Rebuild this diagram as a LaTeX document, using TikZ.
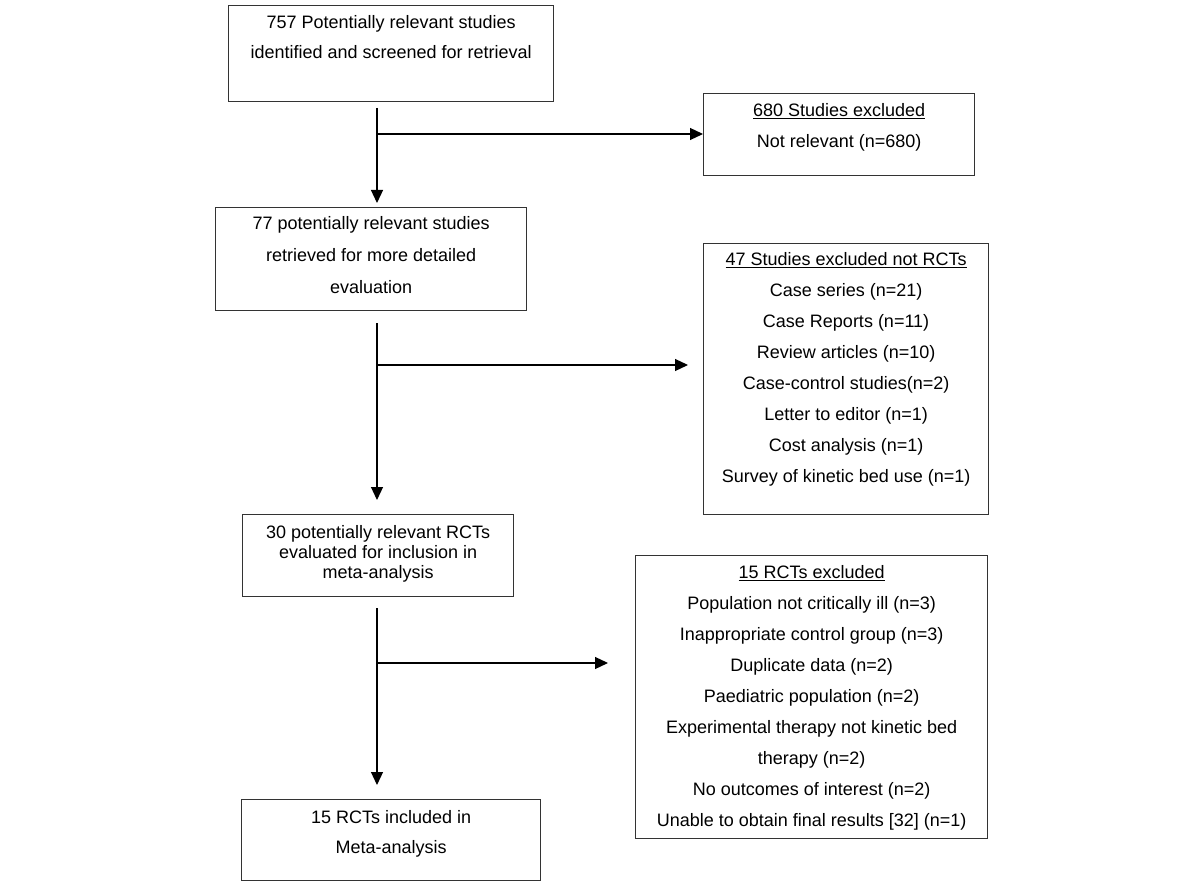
\documentclass[tikz,border=0pt]{standalone}
\usepackage{fontspec}
\setmainfont{Liberation Sans}
\usetikzlibrary{arrows.meta}
% box text: width, height, line skip, top gap, lines
\newcommand{\boxtext}[5]{\parbox[t][#2][t]{#1}{\centering\fontsize{18}{#3}\selectfont\vspace*{#4}#5}}
\tikzset{
  flowbox/.style={draw=black!80,line width=1.2pt,inner sep=0pt,anchor=north west},
  flowarrow/.style={->,line width=1.2pt}
}
\begin{document}
\begin{tikzpicture}[>={Triangle[length=13pt,width=12pt]},x=1pt,y=-1pt]
            \useasboundingbox (0,0) rectangle (1200,888);
            %\draw[ultra thin,gray!20] (0,0) grid[step=100] (1200,888);
            \node[flowbox] (screened) at (228,5) {\boxtext{325pt}{96pt}{30pt}{10pt}{757 Potentially relevant studies\\identified and screened for retrieval}};
            \node[flowbox] (notrel) at (703,93) {\boxtext{271pt}{82pt}{31pt}{10pt}{\underline{680 Studies excluded}\\Not relevant (n=680)}};
            \node[flowbox] (retrieved) at (215,207) {\boxtext{311pt}{103pt}{32pt}{9pt}{77 potentially relevant studies\\retrieved for more detailed\\evaluation}};
            \node[flowbox] (notrct) at (703,243) {\boxtext{285pt}{271pt}{31pt}{9pt}{\underline{47 Studies excluded not RCTs}\\Case series (n=21)\\Case Reports (n=11)\\Review articles (n=10)\\Case-control studies(n=2)\\Letter to editor (n=1)\\Cost analysis (n=1)\\Survey of kinetic bed use (n=1)}};
            \node[flowbox] (evaluated) at (242,514) {\boxtext{271pt}{82pt}{20pt}{11pt}{30 potentially relevant RCTs\\evaluated for inclusion in\\meta-analysis}};
            \node[flowbox] (rctout) at (635,555) {\boxtext{352pt}{283pt}{31pt}{10pt}{\underline{15 RCTs excluded}\\Population not critically ill (n=3)\\Inappropriate control group (n=3)\\Duplicate data (n=2)\\Paediatric population (n=2)\\Experimental therapy not kinetic bed\\therapy (n=2)\\No outcomes of interest (n=2)\\Unable to obtain final results [32] (n=1)}};
            \node[flowbox] (included) at (241,799) {\boxtext{299pt}{81pt}{30pt}{11pt}{15 RCTs included in\\Meta-analysis}};
            % stems and branches
            \coordinate (s1) at (377,108);
            \coordinate (j1) at (377,134);
            \coordinate (s2) at (377,323);
            \coordinate (j2) at (377,365);
            \coordinate (s3) at (377,608);
            \coordinate (j3) at (377,663);
            \draw [flowarrow,shorten >=4pt] (s1) -- (s1 |- retrieved.north);
            \draw [flowarrow] (j1) -- (j1 -| notrel.west);
            \draw [flowarrow,shorten >=14pt] (s2) -- (s2 |- evaluated.north);
            \draw [flowarrow,shorten >=15pt] (j2) -- (j2 -| notrct.west);
            \draw [flowarrow,shorten >=14pt] (s3) -- (s3 |- included.north);
            \draw [flowarrow,shorten >=27pt] (j3) -- (j3 -| rctout.west);
    \end{tikzpicture}
\end{document}
